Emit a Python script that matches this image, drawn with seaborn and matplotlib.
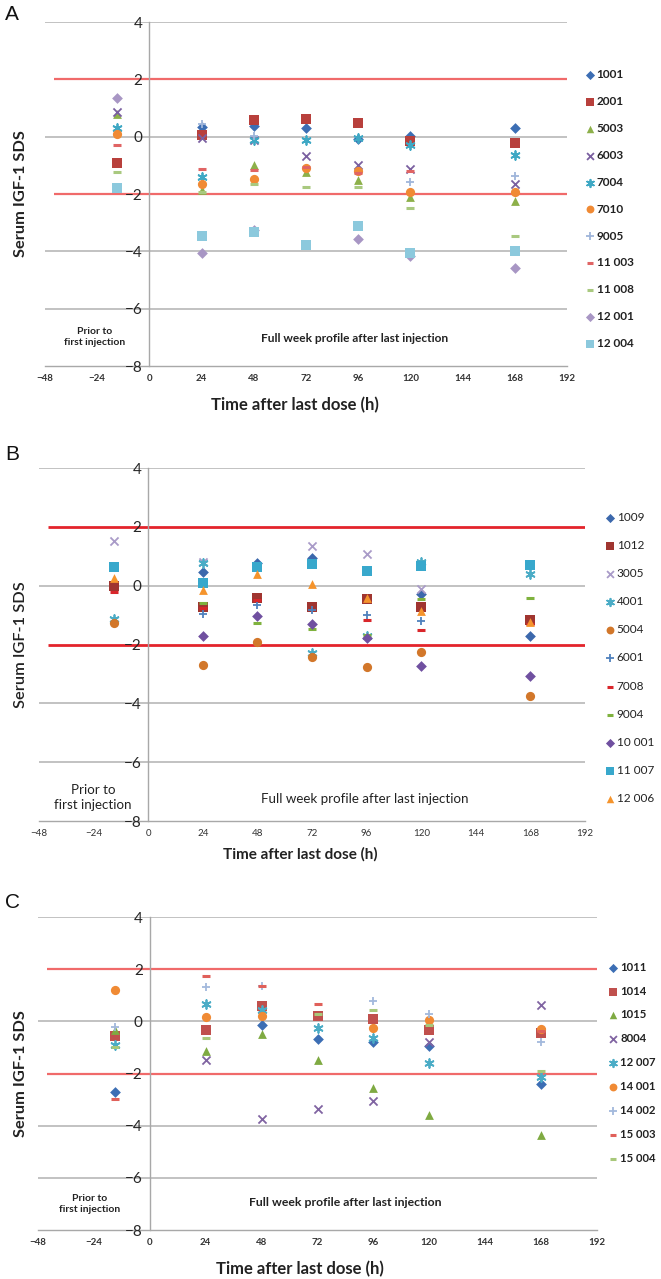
import numpy as np
import pandas as pd
import matplotlib
matplotlib.use("Agg")
import matplotlib.pyplot as plt
import seaborn as sns

sns.set_theme(style="white")
plt.rcParams["font.family"] = ["Lato", "DejaVu Sans"]
plt.rcParams["axes.unicode_minus"] = True

NA = np.nan
TIMES = [-15, 24, 48, 72, 96, 120, 168]
X_TICKS = [-48, -24, 0, 24, 48, 72, 96, 120, 144, 168, 192]
Y_TICKS = [-8, -6, -4, -2, 0, 2, 4]

# ---- Panel A ----
A_IDS = ["1001", "2001", "5003", "6003", "7004", "7010", "9005",
         "11 003", "11 008", "12 001", "12 004"]
A_VALUES = [
    [NA, 0.33, 0.36, 0.30, -0.08, 0.01, 0.30],        # 1001
    [-0.92, 0.07, 0.59, 0.63, 0.48, -0.16, -0.22],    # 2001
    [0.80, -1.85, -1.00, -1.22, -1.50, -2.12, -2.23], # 5003
    [0.85, -0.05, -0.10, -0.66, -0.98, -1.13, -1.65], # 6003
    [0.30, -1.41, -0.10, -0.10, -0.05, -0.30, -0.65], # 7004
    [0.08, -1.65, -1.48, -1.09, -1.19, -1.94, -1.94], # 7010
    [NA, 0.45, 0.02, NA, NA, -1.59, -1.38],           # 9005
    [-0.30, -1.12, -1.17, -1.05, -1.25, -1.20, NA],   # 11 003
    [-1.24, -1.93, -1.64, -1.77, -1.77, -2.49, -3.45],# 11 008
    [1.35, -4.06, -3.25, NA, -3.56, -4.17, -4.58],    # 12 001
    [-1.79, -3.48, -3.32, -3.77, -3.10, -4.06, -4.00],# 12 004
]
A_MARKERS = ["D", "s", "^", "x", "*", "o", "+", "-", "-", "D", "s"]
A_COLORS = ["#3C6EB4", "#B8403C", "#8DB04A", "#7A5FA0", "#3FA8C4", "#F08A34",
            "#9FB5DA", "#E06464", "#A9C97F", "#A896C4", "#8CC9DD"]

# ---- Panel B ----
B_IDS = ["1009", "1012", "3005", "4001", "5004", "6001", "7008",
         "9004", "10 001", "11 007", "12 006"]
B_VALUES = [
    [NA, 0.48, 0.78, 0.93, NA, -0.30, -1.72],         # 1009
    [0.00, -0.74, -0.41, -0.72, -0.45, -0.72, -1.17], # 1012
    [1.52, 0.82, NA, 1.36, 1.07, -0.10, NA],          # 3005
    [-1.15, 0.76, NA, -2.30, -1.70, 0.82, 0.40],      # 4001
    [-1.28, -2.68, -1.91, -2.44, -2.76, -2.25, -3.75],# 5004
    [NA, -0.97, -0.66, -0.83, -1.00, -1.20, NA],      # 6001
    [-0.20, -0.75, -0.50, NA, -1.17, -1.51, -1.30],   # 7008
    [NA, -0.60, -1.28, -1.49, -1.68, -0.45, -0.43],   # 9004
    [NA, -1.72, -1.03, -1.31, -1.77, -2.74, -3.08],   # 10 001
    [0.64, 0.10, 0.65, 0.74, 0.51, 0.68, 0.70],       # 11 007
    [0.27, -0.15, 0.40, 0.07, -0.43, -0.85, -1.25],   # 12 006
]
B_MARKERS = ["D", "s", "x", "*", "o", "+", "-", "-", "D", "s", "^"]
B_COLORS = ["#3C68AC", "#A03530", "#A99BC8", "#4BACC6", "#D2772A", "#4F81BD",
            "#D9262B", "#7FB23E", "#7050A0", "#38A8CC", "#F5942C"]

# ---- Panel C ----
C_IDS = ["1011", "1014", "1015", "8004", "12 007", "14 001", "14 002",
         "15 003", "15 004"]
C_VALUES = [
    [-2.70, NA, -0.14, -0.66, -0.80, -0.95, -2.40],   # 1011
    [-0.57, -0.32, 0.60, 0.19, 0.09, -0.32, -0.44],   # 1014
    [-0.32, -1.14, -0.50, -1.48, -2.56, -3.60, -4.37],# 1015
    [NA, -1.49, -3.73, -3.35, -3.04, -0.78, 0.61],    # 8004
    [-0.89, 0.67, 0.45, -0.25, -0.63, -1.58, -2.15],  # 12 007
    [1.20, 0.15, 0.19, NA, -0.25, 0.06, -0.28],       # 14 001
    [-0.20, 1.33, 1.37, NA, 0.78, 0.29, -0.78],       # 14 002
    [-2.97, 1.73, 1.37, 0.67, NA, NA, -0.38],         # 15 003
    [-1.00, -0.63, NA, 0.29, 0.42, -0.13, -1.90],     # 15 004
]
C_MARKERS = ["D", "s", "^", "x", "*", "o", "+", "-", "-"]
C_COLORS = ["#3C6EB4", "#C0504D", "#7FAA42", "#8064A2", "#4BACC6", "#F08A34",
            "#A3B9DC", "#E0605A", "#A8C87A"]

MARKER_MAP = {"D": "D", "s": "s", "^": "^", "x": "x", "*": (6, 2, 0),
              "o": "o", "+": "+", "-": "_"}
MARKER_SIZE = {"D": 30, "s": 46, "^": 40, "x": 34, "*": 40, "o": 44, "+": 40, "-": 26}

W, H = 661, 1279
fig = plt.figure(figsize=(W / 100, H / 100), dpi=100)


def px_rect(left, right, top, bottom):
    return [left / W, 1 - bottom / H, (right - left) / W, (bottom - top) / H]


def draw_panel(rect, ids, values, markers, colors, bold, red, red_lw,
               leg_xy, leg_space, leg_size, notes, ylab_x, xlab_xy, xlab_size):
    ax = fig.add_axes(rect)
    weight = "bold" if bold else "normal"
    rows = []
    for sid, vals in zip(ids, values):
        for t, v in zip(TIMES, vals):
            rows.append({"id": sid, "time": t, "sds": v})
    df = pd.DataFrame(rows).dropna()

    for sid, m, c in zip(ids, markers, colors):
        sub = df[df["id"] == sid]
        mk = MARKER_MAP[m]
        kw = dict(s=MARKER_SIZE[m], color=c, zorder=3, label=sid)
        if m in ("x", "+", "*"):
            kw["linewidth"] = 1.3
        elif m == "-":
            kw["linewidth"] = 2.2
        else:
            kw["linewidth"] = 0
        sns.scatterplot(data=sub, x="time", y="sds", marker=mk, ax=ax, legend=False, **kw)

    ax.set_xlim(-48, 192)
    ax.set_ylim(-8, 4)
    ax.set_xticks(X_TICKS)
    ax.set_yticks(Y_TICKS)
    ax.set_xticklabels([str(t).replace("-", "\u2212") for t in X_TICKS],
                       fontsize=7, fontweight=weight, color="#333333")
    ax.set_yticklabels([str(t).replace("-", "\u2212") for t in Y_TICKS],
                       fontsize=7, fontweight=weight, color="#333333")
    ax.grid(False)
    # horizontal gridlines and reference band drawn under the tick labels
    ax.hlines([t for t in Y_TICKS if t not in (-8, 2, -2)], -48, 192,
              colors="#BDBDBD", lw=1.3, zorder=0.5)
    ax.hlines([2, -2], -44, 192, colors=red, lw=red_lw, zorder=1.5)
    ax.yaxis.set_zorder(2.8)
    ax.xaxis.set_zorder(2.8)
    for s in ("top", "right"):
        ax.spines[s].set_visible(False)
    ax.spines["left"].set_position(("data", 0))
    ax.spines["left"].set_color("#A8A8A8")
    ax.spines["bottom"].set_color("#A8A8A8")
    ax.spines["left"].set_linewidth(1.0)
    ax.spines["bottom"].set_linewidth(1.0)
    ax.tick_params(axis="x", direction="inout", length=5, color="#A8A8A8", pad=3)
    ax.tick_params(axis="y", direction="out", length=3, color="#A8A8A8", pad=2)

    ax.set_xlabel("Time after last dose (h)", fontsize=xlab_size, fontweight="bold",
                  color="#222222")
    ax.set_ylabel("Serum IGF-1 SDS", fontsize=11.8,
                  fontweight="bold" if bold else "semibold", color="#222222")
    ax.yaxis.set_label_coords(ylab_x, 0.5)
    ax.xaxis.set_label_coords(*xlab_xy)

    (px, py, psize, fx, fy, fsize) = notes
    ax.text(px, py, "Prior to\nfirst injection", ha="center", va="center",
            fontsize=psize, fontweight=weight, linespacing=1.25, color="#222222")
    ax.text(fx, fy, "Full week profile after last injection", ha="center",
            va="center", fontsize=fsize, fontweight=weight, color="#222222")

    leg = ax.legend(loc="upper left", bbox_to_anchor=(leg_xy[0] / W, 1 - leg_xy[1] / H),
                    bbox_transform=fig.transFigure, frameon=False, borderpad=0,
                    handlelength=0.8, handletextpad=0.2, labelspacing=leg_space,
                    prop={"size": leg_size, "weight": weight}, markerscale=0.85)
    for txt in leg.get_texts():
        txt.set_color("#222222")
    return ax


draw_panel(px_rect(45, 567, 22, 366), A_IDS, A_VALUES, A_MARKERS, A_COLORS,
           True, "#F06A6A", 1.6, (579, 63), 1.35, 8.5,
           (-25, -7.0, 7.5, 94.5, -7.05, 8.6), -0.033, (0.479, -0.09), 12)
draw_panel(px_rect(39, 585, 468, 821), B_IDS, B_VALUES, B_MARKERS, B_COLORS,
           False, "#E3242B", 2.0, (599, 506), 1.45, 8.5,
           (-24.3, -7.2, 9.6, 95.3, -7.25, 9.6), -0.02, (0.478, -0.075), 11)
draw_panel(px_rect(38, 597, 917, 1230), C_IDS, C_VALUES, C_MARKERS, C_COLORS,
           True, "#F06A6A", 1.6, (603, 956), 1.13, 8.2,
           (-25.7, -7.0, 7.5, 83.8, -6.96, 8.8), -0.018, (0.469, -0.098), 12)

for letter, y in (("A", 15), ("B", 455), ("C", 903)):
    fig.text(5 / W, 1 - y / H, letter, fontsize=15, va="center", ha="left",
             color="#111111", family=["Liberation Sans", "DejaVu Sans"])

fig.savefig("out.png", dpi=100, facecolor="white")
